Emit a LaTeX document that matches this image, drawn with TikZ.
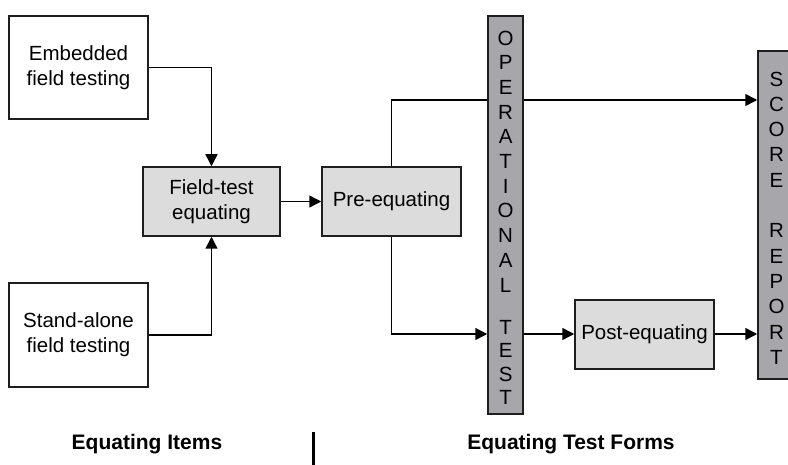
\documentclass[tikz,border=0pt]{standalone}
\usepackage{fontspec}
\setmainfont{Liberation Sans}
\usetikzlibrary{arrows.meta}
\pgfdeclarelayer{bg}
\pgfsetlayers{bg,main}
\definecolor{lightbox}{HTML}{DCDCDC}
\definecolor{barfill}{HTML}{A7A7AB}
\definecolor{edge}{HTML}{1E1E1E}
\begin{document}
\begin{tikzpicture}[x=1pt,y=-1pt,
  box/.style={draw=edge, line width=1.5pt, rectangle, inner sep=0pt, align=center,
    font=\fontsize{20.5}{25}\selectfont},
  plainbox/.style={box, fill=white},
  shadedbox/.style={box, fill=lightbox},
  barbox/.style={draw=edge, line width=1.5pt, rectangle, fill=barfill, inner sep=0pt},
  letter/.style={font=\fontsize{20.5}{25}\selectfont, inner sep=0pt},
  conn/.style={line width=1.5pt, draw=black, -{Triangle[length=12pt,width=12pt]}},
  heading/.style={font=\fontsize{21}{25}\selectfont\bfseries, inner sep=0pt}]
\useasboundingbox (0,0) rectangle (788,465);
\clip (0,0) rectangle (788,465);

\node[plainbox, minimum width=139pt, minimum height=103pt] (emb) at (78.5,67.5) {Embedded\\field testing};
\node[plainbox, minimum width=139pt, minimum height=104pt] (sa) at (78.5,335) {Stand-alone\\field testing};
\node[shadedbox, minimum width=137pt, minimum height=69pt] (fte) at (211.5,201.5) {Field-test\\equating};
\node[shadedbox, minimum width=139pt, minimum height=69pt] (pre) at (391.5,201.5) {Pre-equating};
\node[shadedbox, minimum width=139pt, minimum height=69pt] (post) at (644.5,334.5) {Post-equating};
\node[barbox, minimum width=35pt, minimum height=398pt] (op) at (505.5,215) {};
\node[barbox, minimum width=40pt, minimum height=328pt] (sr) at (778,215) {};

\foreach \l/\y [count=\i] in {O/38,P/62.7,E/87.4,R/112.1,A/136.8,T/161.5,I/186.2,O/210.9,N/235.6,A/260.3,L/285,T/327,E/350.5,S/374,T/397.5}
  \node[letter] (opl\i) at (505.6,\y) {\l};
\foreach \l/\y [count=\i] in {S/79,C/104.3,O/129.6,R/154.9,E/180.2,R/230.8,E/256.1,P/281.4,O/306.7,R/332,T/357.3}
  \node[letter] (srl\i) at (776.5,\y) {\l};

\coordinate (up) at (0,100);
\coordinate (low) at (0,334);
\begin{pgfonlayer}{bg}
\draw[conn] (emb.east) -| (fte.north);
\draw[conn] (sa.east) -| (fte.south);
\draw[conn] (fte.east) -- (pre.west);
\draw[conn] (pre.north) |- (sr.west |- up);
\draw[conn] (pre.south) |- (op.west |- low);
\draw[conn] (op.east |- low) -- (post.west |- low);
\draw[conn] (post.east |- low) -- (sr.west |- low);
\end{pgfonlayer}

\node[heading] (hl) at (147,444) {Equating Items};
\node[heading] (hr) at (571,444) {Equating Test Forms};
\coordinate (dtop) at (313.5,432);
\coordinate (dbot) at (313.5,465);
\draw[line width=3pt] (dtop) -- (dbot);
\end{tikzpicture}
\end{document}
